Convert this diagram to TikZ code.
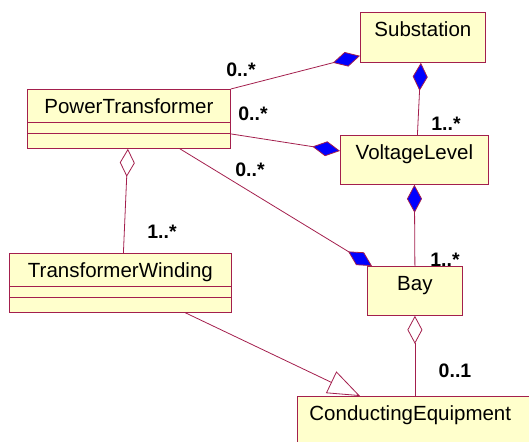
\documentclass[tikz,border=0pt]{standalone}
\usepackage{fontspec}
\setmainfont{Liberation Sans}
\usetikzlibrary{arrows.meta}
\definecolor{umlline}{RGB}{163,31,77}
\definecolor{umlfill}{RGB}{255,255,204}
\definecolor{umlblue}{RGB}{0,0,255}

\begin{document}
\begin{tikzpicture}[x=1pt,y=-1pt,
  cls/.style={draw=umlline,fill=umlfill,line width=0.8pt,inner sep=0pt,anchor=north west,
    text height=24pt,font=\fontsize{20.5}{24}\selectfont},
  mult/.style={font=\fontsize{19.5}{22}\selectfont\bfseries,inner sep=0pt},
  assoc/.style={draw=umlline,line width=0.8pt},
  comp/.style={assoc,-{Diamond[length=28pt,width=15pt,fill=umlblue]}},
  aggr/.style={assoc,-{Diamond[length=28pt,width=15pt,fill=white]}},
  gen/.style={assoc,-{Triangle[length=32pt,width=24pt,fill=white]}}]
\clip (0,0) rectangle (529,441);
% classes
\node[cls,minimum width=125pt,text depth=26pt] (sub) at (360,12) {Substation};
\node[cls,minimum width=203pt,text depth=35pt] (pt) at (27,89) {PowerTransformer};
\node[cls,minimum width=148pt,text depth=25pt] (vl) at (340,135) {VoltageLevel};
\node[cls,minimum width=222pt,text depth=35pt] (tw) at (9,253) {TransformerWinding};
\node[cls,minimum width=95pt,text depth=25pt] (bay) at (367,266) {Bay};
\node[cls,minimum width=240pt,text width=216pt,align=left,text depth=26pt] (ce) at (297,396) {ConductingEquipment};
\foreach \n in {pt,tw}{
  \draw[assoc] ([yshift=-33pt]\n.north west) -- ([yshift=-33pt]\n.north east);
  \draw[assoc] ([yshift=-44pt]\n.north west) -- ([yshift=-44pt]\n.north east);
}
% associations
\draw[comp] (pt.north east) -- ([yshift=7pt]sub.south west);
\draw[comp] ([xshift=3pt]vl.north) -- ([xshift=-2pt]sub.south);
\draw[comp] ([yshift=-15pt]pt.east) -- ([yshift=9pt]vl.west);
\draw[comp] (bay.north) -- (vl.south);
\draw[comp] ([xshift=51pt]pt.south) -- ([xshift=5pt]bay.north west);
\draw[aggr] ([xshift=3pt]tw.north) -- ([xshift=-1pt]pt.south);
\draw[aggr] (bay.south |- ce.north) -- (bay.south);
\draw[gen] ([xshift=65pt]tw.south) -- ([xshift=63pt]ce.north west);
% multiplicities
\node[mult] (mptsub) at (241,70) {0..*};
\node[mult] (mptvl) at (253,114) {0..*};
\node[mult] (mvlsub) at (446,124) {1..*};
\node[mult] (mptbay) at (250,170) {0..*};
\node[mult] (mtwpt) at (162,232) {1..*};
\node[mult] (mbayvl) at (445,260) {1..*};
\node[mult] (mcebay) at (455,371) {0..1};
\end{tikzpicture}
\end{document}
